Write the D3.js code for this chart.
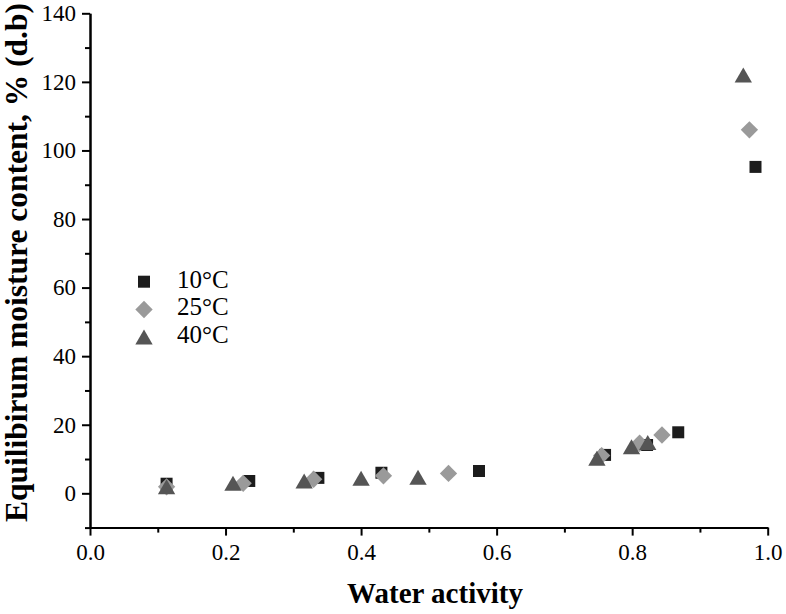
<!DOCTYPE html>
<html>
<head>
<meta charset="utf-8">
<script src="https://cdn.jsdelivr.net/npm/d3@7"></script>
<style>
  html, body { margin: 0; padding: 0; background: #fff; }
  svg { display: block; }
  text { font-family: "Liberation Serif", "Times New Roman", serif; }
</style>
</head>
<body>
<svg id="chart" width="786" height="614"></svg>
<script>
// ---- Data ----
const series = ["10°C", "25°C", "40°C"];
const aw10  = [0.113, 0.235, 0.337, 0.430, 0.574, 0.760, 0.822, 0.868, 0.982];
const emc10 = [2.8, 3.6, 4.5, 6.0, 6.5, 11.2, 14.1, 17.8, 95.2];
const aw25  = [0.113, 0.226, 0.330, 0.433, 0.529, 0.755, 0.811, 0.844, 0.973];
const emc25 = [1.9, 2.9, 4.1, 5.1, 5.8, 11.0, 14.6, 17.0, 106.0];
const aw40  = [0.113, 0.211, 0.316, 0.400, 0.484, 0.748, 0.799, 0.823, 0.964];
const emc40 = [1.9, 2.9, 3.6, 4.4, 4.7, 10.2, 13.6, 14.8, 122.0];
const xTicks = [0.0, 0.2, 0.4, 0.6, 0.8, 1.0];
const yTicks = [0, 20, 40, 60, 80, 100, 120, 140];
const xLabel = "Water activity";
const yLabel = "Equilibirum moisture content, % (d.b)";

const colors = ["#1c1c1c", "#9a9a9a", "#555555"];
const shapes = ["square", "diamond", "triangle"];

const svg = d3.select("#chart");
const x = d3.scaleLinear().domain([0, 1]).range([90, 767.7]);
const y = d3.scaleLinear().domain([-10, 140]).range([527.6, 13.3]);

const font = "Liberation Serif, Times New Roman, serif";

function symbolPath(shape) {
  if (shape === "square") return d3.symbol(d3.symbolSquare, 144)();
  if (shape === "diamond") return d3.symbol(d3.symbolSquare, 150)();
  return d3.symbol(d3.symbolTriangle, 130)();
}
function symbolTransform(shape, px, py) {
  if (shape === "diamond") return `translate(${px},${py}) rotate(45)`;
  if (shape === "triangle") return `translate(${px},${py + 2.5})`;
  return `translate(${px},${py})`;
}

// ---- Axes ----
const xAxis = d3.axisBottom(x).tickValues(xTicks).tickFormat(d3.format(".1f"))
  .tickSize(8).tickSizeOuter(0).tickPadding(8);
const xMinor = d3.axisBottom(x).tickValues([0.1, 0.3, 0.5, 0.7, 0.9]).tickFormat("")
  .tickSize(5).tickSizeOuter(0);
const yAxis = d3.axisLeft(y).tickValues(yTicks).tickSize(8).tickSizeOuter(0).tickPadding(6);
const yMinor = d3.axisLeft(y).tickValues([-10, 10, 30, 50, 70, 90, 110, 130]).tickFormat("")
  .tickSize(5).tickSizeOuter(0);

function styleAxis(g) {
  g.attr("font-family", font).attr("font-size", 23);
  g.selectAll("path.domain").attr("stroke", "#000").attr("stroke-width", 2);
  g.selectAll(".tick line").attr("stroke", "#000").attr("stroke-width", 2);
  g.selectAll(".tick text").attr("fill", "#000")
    .style("font-family", font).style("font-size", "23px");
}

svg.append("g").attr("transform", `translate(0,${y(-10)})`).call(xMinor).call(styleAxis);
svg.append("g").attr("transform", `translate(0,${y(-10)})`).call(xAxis).call(styleAxis);
svg.append("g").attr("transform", `translate(${x(0)},0)`).call(yMinor).call(styleAxis);
svg.append("g").attr("transform", `translate(${x(0)},0)`).call(yAxis).call(styleAxis);

// ---- Axis titles ----
svg.append("text").attr("x", 435).attr("y", 602.5)
  .attr("text-anchor", "middle")
  .style("font-family", font).style("font-size", "29px").style("font-weight", "bold")
  .text(xLabel);

const yt = svg.append("text").attr("transform", "translate(27,522) rotate(-90)")
  .attr("text-anchor", "start")
  .style("font-family", font).style("font-size", "32px").style("font-weight", "bold")
  .text(yLabel);
// fit the title inside the available height (522 px down to ~2 px)
const len = yt.node().getComputedTextLength();
if (len > 519) {
  yt.style("font-size", (32 * 519 / len).toFixed(2) + "px");
}

// ---- Points ----
const data = [
  aw10.map((a, i) => ({ a, m: emc10[i] })),
  aw25.map((a, i) => ({ a, m: emc25[i] })),
  aw40.map((a, i) => ({ a, m: emc40[i] }))
];

data.forEach((pts, si) => {
  svg.append("g").selectAll("path").data(pts).join("path")
    .attr("d", symbolPath(shapes[si]))
    .attr("transform", d => symbolTransform(shapes[si], x(d.a), y(d.m)))
    .attr("fill", colors[si]);
});

// ---- Legend ----
const legY = [281.7, 309.5, 337];
const leg = svg.append("g");
series.forEach((s, i) => {
  leg.append("path").attr("d", symbolPath(shapes[i]))
    .attr("transform", symbolTransform(shapes[i], 144, legY[i]))
    .attr("fill", colors[i]);
  leg.append("text").attr("x", 177).attr("y", legY[i] + 5.8)
    .style("font-family", font).style("font-size", "25px").attr("fill", "#000")
    .text(s);
});
</script>
</body>
</html>
